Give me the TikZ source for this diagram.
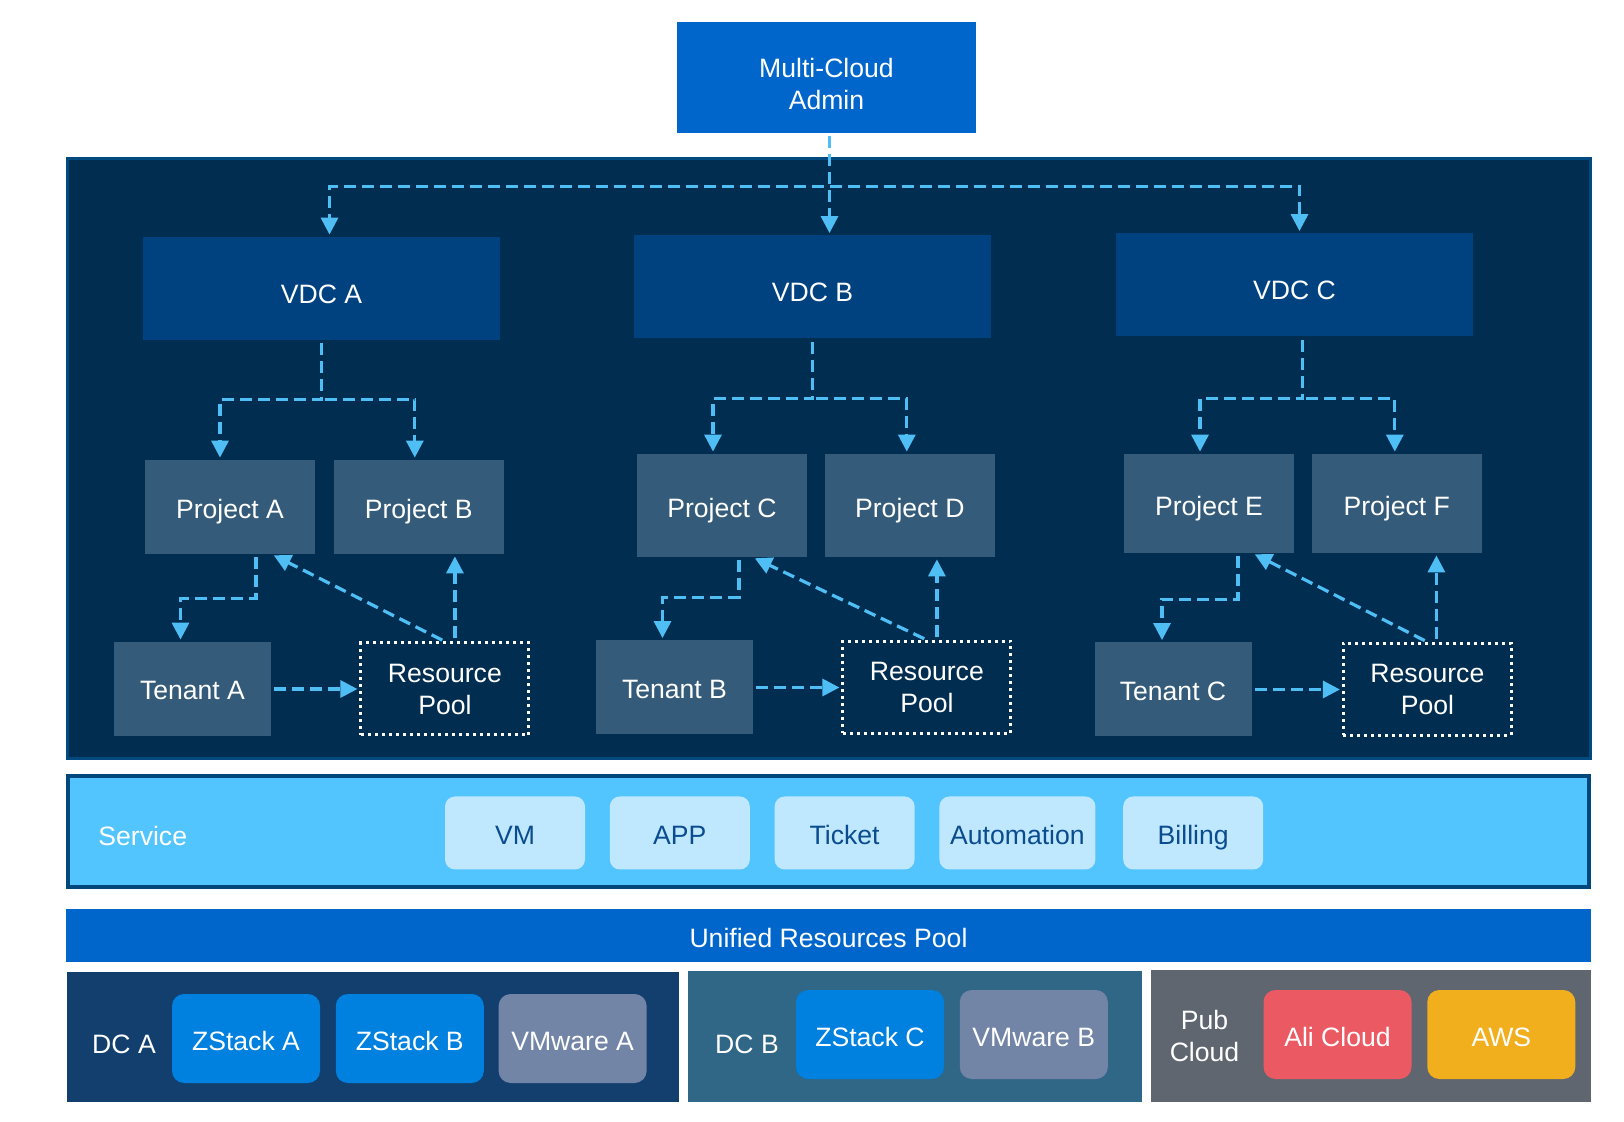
\documentclass[tikz,border=0pt]{standalone}
\usepackage{fontspec}
\setmainfont{Liberation Sans}
\usepackage{tikz}
\usetikzlibrary{arrows.meta,positioning,calc}

\definecolor{paneldark}{HTML}{002D50}
\definecolor{paneledge}{HTML}{004A80}
\definecolor{vdcblue}{HTML}{004280}
\definecolor{projgray}{HTML}{355B7A}
\definecolor{flowblue}{HTML}{4FBEF5}
\definecolor{adminblue}{HTML}{0066CC}
\definecolor{svcband}{HTML}{52C4FE}
\definecolor{svcedge}{HTML}{00477C}
\definecolor{svcitem}{HTML}{BFE8FE}
\definecolor{svctext}{HTML}{0A4C8E}
\definecolor{dcablue}{HTML}{123F6E}
\definecolor{dcbblue}{HTML}{306686}
\definecolor{pubgray}{HTML}{5F6670}
\definecolor{zstack}{HTML}{0080DF}
\definecolor{vmware}{HTML}{7385A7}
\definecolor{alired}{HTML}{EB5A62}
\definecolor{awsgold}{HTML}{F1AE1D}

\begin{document}
\begin{tikzpicture}[x=0.5pt,y=-0.5pt,>={Triangle[length=8.5pt,width=8.5pt]},
  font=\fontsize{13.3pt}{16pt}\selectfont,
  every node/.style={text=white},
  oneline/.style={text height=#1,text depth=0pt},
  oneline/.default=12pt,
  box/.style={minimum width=85pt,minimum height=47pt,align=center,inner sep=0pt},
  vdc/.style={box,oneline=15pt,fill=vdcblue,minimum width=178.5pt,minimum height=51.5pt},
  proj/.style={box,oneline,fill=projgray},
  tenant/.style={box,oneline=11pt,fill=projgray,minimum width=78.5pt},
  pool/.style={box,draw=white,line width=1.5pt,dash pattern=on 1.5pt off 2pt,minimum width=84pt,minimum height=46pt},
  svc/.style={oneline,fill=svcitem,text=svctext,rounded corners=5pt,minimum width=70pt,minimum height=36.5pt,inner sep=0pt},
  plat/.style={oneline,rounded corners=6pt,minimum width=74pt,minimum height=44.5pt,inner sep=0pt},
  flow/.style={->,color=flowblue,line width=1.6pt,dash pattern=on 6pt off 3pt,shorten >=1pt,shorten <=1.5pt}]
\useasboundingbox (0,0) rectangle (1624,1122);
\fill[white] (0,0) rectangle (1624,1122);

% panels
\draw[fill=paneldark,draw=paneledge,line width=1.5pt] (67,159) rectangle (1590,759);
\draw[fill=svcband,draw=svcedge,line width=2pt] (68,776) rectangle (1589,887);
\fill[dcablue] (67,972) rectangle (679,1102);
\fill[dcbblue] (688,971) rectangle (1142,1102);
\fill[pubgray] (1151,970) rectangle (1591,1102);

\node[fill=adminblue,minimum width=149.5pt,minimum height=55.5pt,align=center,
  text height=32.5pt,text depth=0pt] (admin) at (826.5,77.5) {Multi-Cloud\\Admin};

\node[vdc] (vdca) at (321.5,288.5) {VDC A};
\node[vdc] (vdcb) at (812.5,287) {VDC B};
\node[vdc] (vdcc) at (1294.5,285) {VDC C};

\node[proj] (proja) at (230,507) {Project A};
\node[proj,right=9pt of proja] (projb) {Project B};
\node[proj,minimum height=51.5pt] (projc) at (722,505.5) {Project C};
\node[proj,minimum height=51.5pt,right=8.5pt of projc] (projd) {Project D};
\node[proj,minimum height=49.5pt] (proje) at (1209,503.5) {Project E};
\node[proj,minimum height=49.5pt,right=8.5pt of proje] (projf) {Project F};

\node[tenant] (tena) at (192.5,689) {Tenant A};
\node[pool,right=44pt of tena] (poola) {Resource\\Pool};
\node[tenant] (tenb) at (674.5,687.5) {Tenant B};
\node[pool,right=44pt of tenb] (poolb) {Resource\\Pool};
\node[tenant] (tenc) at (1173,689.5) {Tenant C};
\node[pool,right=45pt of tenc] (poolc) {Resource\\Pool};

\node[anchor=west,inner sep=0pt] (svclab) at (98,836) {Service};
\node[svc] (vm) at (515,833) {VM};
\node[svc,right=12pt of vm] (app) {APP};
\node[svc,right=12pt of app] (ticket) {Ticket};
\node[svc,right=12pt of ticket,minimum width=78pt] (auto) {Automation};
\node[svc,right=13.5pt of auto] (bill) {Billing};

\node[oneline,fill=adminblue,minimum width=762.5pt,minimum height=26.5pt] (urp) at (828.5,935.5) {Unified Resources Pool};

\node[oneline] (dcalab) at (124,1041) {DC A};
\node[plat,fill=zstack] (zsa) at (246,1038.5) {ZStack A};
\node[plat,fill=zstack,right=7.5pt of zsa] (zsb) {ZStack B};
\node[plat,fill=vmware,right=7pt of zsb] (vma) {VMware A};
\node[oneline] (dcblab) at (747,1041) {DC B};
\node[plat,fill=zstack] (zsc) at (870,1034.5) {ZStack C};
\node[plat,fill=vmware,right=7.5pt of zsc] (vmb) {VMware B};
\node[align=center] (publab) at (1204.5,1036) {Pub\\Cloud};
\node[plat,fill=alired] (ali) at (1337.5,1034.5) {Ali Cloud};
\node[plat,fill=awsgold,right=7.5pt of ali] (aws) {AWS};

% admin to vdc
\coordinate (fork) at ($(admin.south)+(0,-26.5pt)$);
\draw[flow] ([xshift=1.5pt]admin.south) -- ([xshift=1.5pt]admin.south |- vdcb.north);
\draw[flow] (fork) -| ([xshift=4pt]vdca.north);
\draw[flow] (fork) -| ([xshift=2.5pt]vdcc.north);

% vdc to projects
\coordinate (forka) at ($(vdca.south)+(0,-29.5pt)$);
\draw[flow] (vdca.south) -- (forka) -| ([xshift=-5pt]proja.north);
\draw[flow] (forka) -| ([xshift=-2pt]projb.north);
\coordinate (forkb) at ($(vdcb.south)+(0,-30pt)$);
\draw[flow] (vdcb.south) -- (forkb) -| ([xshift=-4.5pt]projc.north);
\draw[flow] (forkb) -| ([xshift=-1.5pt]projd.north);
\coordinate (forkc) at ($([xshift=4pt]vdcc.south)+(0,-31pt)$);
\draw[flow] ([xshift=4pt]vdcc.south) -- (forkc) -| ([xshift=-4.5pt]proje.north);
\draw[flow] (forkc) -| ([xshift=-1pt]projf.north);

% projects, tenants and pools
\draw[flow] ([xshift=13pt]proja.south) -- ++(0,-22pt) -| ([xshift=-6pt]tena.north);
\draw[flow] (poola.north) -- ([xshift=21pt]proja.south);
\draw[flow] ([xshift=5pt]poola.north) -- ([xshift=5pt]poola.north |- projb.south);
\draw[flow] (tena.east) -- (poola.west);

\draw[flow] ([xshift=8.5pt]projc.south) -- ++(0,-20pt) -| ([xshift=-6pt]tenb.north);
\draw[flow] (poolb.north) -- ([xshift=15.5pt]projc.south);
\draw[flow] ([xshift=5pt]poolb.north) -- ([xshift=5pt]poolb.north |- projd.south);
\draw[flow] (tenb.east) -- (poolb.west);

\draw[flow] ([xshift=14.5pt]proje.south) -- ++(0,-23pt) -| ([xshift=-5.5pt]tenc.north);
\draw[flow] (poolc.north) -- ([xshift=22pt]proje.south);
\draw[flow] ([xshift=4.5pt]poolc.north) -- ([xshift=4.5pt]poolc.north |- projf.south);
\draw[flow] (tenc.east) -- (poolc.west);
\end{tikzpicture}
\end{document}
